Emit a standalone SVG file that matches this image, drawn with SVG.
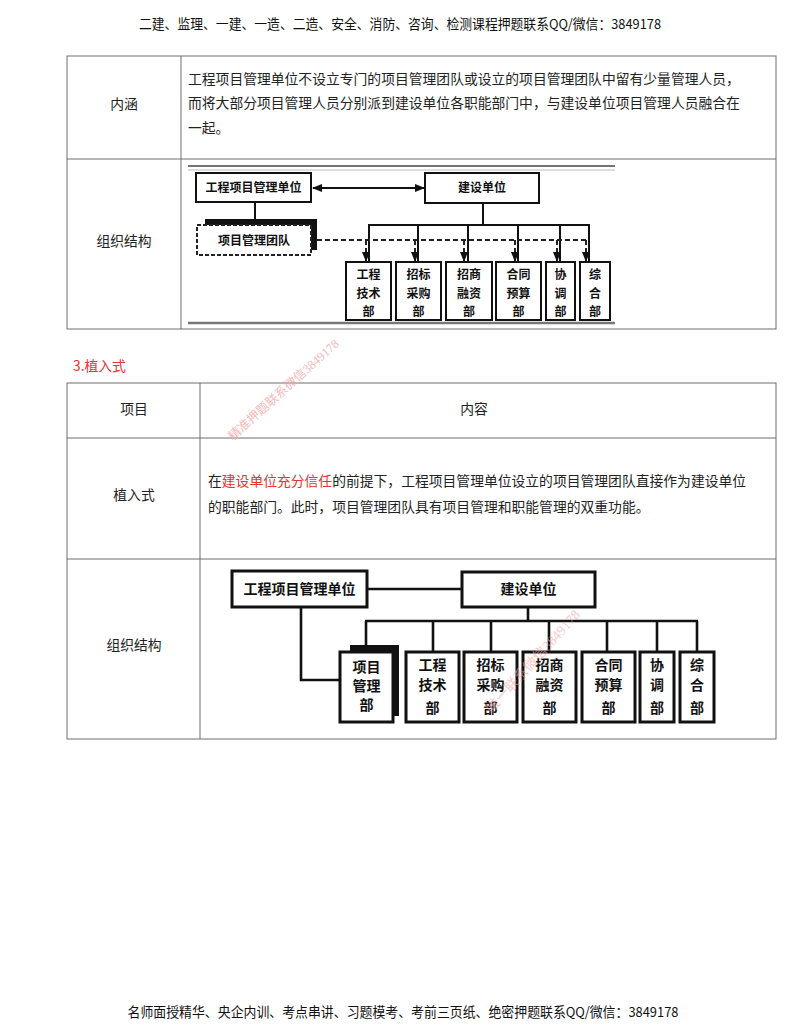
<svg xmlns="http://www.w3.org/2000/svg" width="800" height="1035" viewBox="0 0 800 1035">
<style>
.bg{fill:#fff}
.tbl{stroke:#6e6e6e;stroke-width:1;fill:none}
.body{font-family:"Noto Sans CJK SC","Noto Sans",sans-serif;font-size:13.8px;fill:#222}
.lbl{font-family:"Noto Sans CJK SC","Noto Sans",sans-serif;font-size:13.8px;fill:#222;text-anchor:middle}
.red{fill:#e8322f}
.hdr{font-family:"Noto Sans CJK SC","Noto Sans",sans-serif;font-size:13.5px;fill:#111;text-anchor:middle}
.wm{font-family:"Liberation Serif","Noto Sans CJK SC",serif;font-size:12.5px;fill:#f2a9a9;opacity:0.8}
.b1{fill:#fff;stroke:#111;stroke-width:2}
.b2{fill:#fff;stroke:#111;stroke-width:3}
.t1{font-family:"Noto Sans CJK SC",sans-serif;font-size:12px;font-weight:700;fill:#111;text-anchor:middle}
.t2{font-family:"Noto Sans CJK SC",sans-serif;font-size:14px;font-weight:700;fill:#111;text-anchor:middle}
.c1{stroke:#111;stroke-width:2;fill:none}
.c2{stroke:#111;stroke-width:2.6;fill:none}
.dash{stroke:#222;stroke-width:2;fill:none;stroke-dasharray:5 3}
</style>
<defs>
<marker id="ah" viewBox="0 0 10 10" refX="9" refY="5" markerWidth="5" markerHeight="5" orient="auto-start-reverse">
<path d="M0,1 L10,5 L0,9 z" fill="#111"/>
</marker>
</defs>
<rect class="bg" x="0" y="0" width="800" height="1035"/>

<text class="hdr" x="400" y="29" textLength="522" lengthAdjust="spacingAndGlyphs">二建、监理、一建、一造、二造、安全、消防、咨询、检测课程押题联系QQ/微信：3849178</text>

<g id="table1">
<rect class="tbl" x="67" y="56" width="709" height="273"/>
<line class="tbl" x1="181" y1="56" x2="181" y2="329"/>
<line class="tbl" x1="67" y1="159" x2="776" y2="159"/>
<text class="lbl" x="124" y="109">内涵</text>
<text class="lbl" x="124" y="246">组织结构</text>
<text class="body" x="188" y="84">工程项目管理单位不设立专门的项目管理团队或设立的项目管理团队中留有少量管理人员，</text>
<text class="body" x="188" y="108">而将大部分项目管理人员分别派到建设单位各职能部门中，与建设单位项目管理人员融合在</text>
<text class="body" x="188" y="133">一起。</text>
</g>

<g id="diagram1">
<line x1="188" y1="166" x2="615" y2="166" stroke="#444" stroke-width="1.5"/>
<line x1="188" y1="170" x2="615" y2="170" stroke="#bbb" stroke-width="1"/>
<line x1="188" y1="323" x2="615" y2="323" stroke="#777" stroke-width="2.5"/>
<g id="connectors1">
<line class="c1" x1="313" y1="188" x2="424" y2="188" marker-start="url(#ah)" marker-end="url(#ah)"/>
<line class="c1" x1="255" y1="202" x2="255" y2="219"/>
<line class="c1" x1="483" y1="203" x2="483" y2="225"/>
<line class="c1" x1="368" y1="225" x2="590" y2="225"/>
<line class="c1" x1="369" y1="225" x2="369" y2="262"/>
<line class="c1" x1="418" y1="225" x2="418" y2="262"/>
<line class="c1" x1="468" y1="225" x2="468" y2="262"/>
<line class="c1" x1="518" y1="225" x2="518" y2="262"/>
<line class="c1" x1="560" y1="225" x2="560" y2="262"/>
<line class="c1" x1="589" y1="225" x2="589" y2="262"/>
<line class="dash" x1="317" y1="240" x2="586" y2="240"/>
<line class="dash" x1="366" y1="240" x2="366" y2="261" marker-end="url(#ah)"/>
<line class="dash" x1="415" y1="240" x2="415" y2="261" marker-end="url(#ah)"/>
<line class="dash" x1="464" y1="240" x2="464" y2="261" marker-end="url(#ah)"/>
<line class="dash" x1="515" y1="240" x2="515" y2="261" marker-end="url(#ah)"/>
<line class="dash" x1="557" y1="240" x2="557" y2="261" marker-end="url(#ah)"/>
<line class="dash" x1="586" y1="240" x2="586" y2="261" marker-end="url(#ah)"/>
</g>
<g id="d1-pmu"><rect class="b1" x="196" y="173" width="115" height="29"/><text class="t1" x="253.5" y="192">工程项目管理单位</text></g>
<g id="d1-owner"><rect class="b1" x="425" y="173" width="114" height="30"/><text class="t1" x="482" y="192">建设单位</text></g>
<g id="d1-team">
<rect x="205" y="219" width="112" height="7" fill="#111"/>
<rect x="311" y="219" width="6" height="31" fill="#111"/>
<rect x="197" y="225" width="114" height="30" fill="#fff" stroke="#222" stroke-width="2" stroke-dasharray="4 2"/>
<text class="t1" x="254" y="245">项目管理团队</text>
</g>
<g id="d1-eng"><rect class="b1" x="346" y="262" width="45" height="58"/><text class="t1" x="368.5" y="279">工程</text><text class="t1" x="368.5" y="298">技术</text><text class="t1" x="368.5" y="316">部</text></g>
<g id="d1-bid"><rect class="b1" x="396" y="262" width="45" height="58"/><text class="t1" x="418.5" y="279">招标</text><text class="t1" x="418.5" y="298">采购</text><text class="t1" x="418.5" y="316">部</text></g>
<g id="d1-fin"><rect class="b1" x="446" y="262" width="46" height="58"/><text class="t1" x="469" y="279">招商</text><text class="t1" x="469" y="298">融资</text><text class="t1" x="469" y="316">部</text></g>
<g id="d1-con"><rect class="b1" x="496" y="262" width="45" height="58"/><text class="t1" x="518.5" y="279">合同</text><text class="t1" x="518.5" y="298">预算</text><text class="t1" x="518.5" y="316">部</text></g>
<g id="d1-coo"><rect class="b1" x="546" y="262" width="29" height="58"/><text class="t1" x="560.5" y="279">协</text><text class="t1" x="560.5" y="298">调</text><text class="t1" x="560.5" y="316">部</text></g>
<g id="d1-gen"><rect class="b1" x="580" y="262" width="30" height="58"/><text class="t1" x="595" y="279">综</text><text class="t1" x="595" y="298">合</text><text class="t1" x="595" y="316">部</text></g>
</g>

<text class="body red" x="73" y="371">3.植入式</text>

<g id="table2">
<rect class="tbl" x="67" y="383" width="709" height="356"/>
<line class="tbl" x1="200" y1="383" x2="200" y2="739"/>
<line class="tbl" x1="67" y1="438" x2="776" y2="438"/>
<line class="tbl" x1="67" y1="559" x2="776" y2="559"/>
<text class="lbl" x="134" y="414">项目</text>
<text class="lbl" x="474" y="414">内容</text>
<text class="lbl" x="134" y="500">植入式</text>
<text class="lbl" x="134" y="650">组织结构</text>
<text class="body" x="208" y="486">在<tspan class="red">建设单位充分信任</tspan>的前提下，工程项目管理单位设立的项目管理团队直接作为建设单位</text>
<text class="body" x="208" y="512">的职能部门。此时，项目管理团队具有项目管理和职能管理的双重功能。</text>
</g>

<text class="wm" x="233" y="441" transform="rotate(-42 233 441)">精准押题联系微信3849178</text>

<g id="diagram2">
<g id="connectors2">
<line class="c2" x1="367" y1="589" x2="462" y2="589"/>
<line class="c2" x1="528" y1="607" x2="528" y2="621"/>
<line class="c2" x1="365" y1="621" x2="698" y2="621"/>
<line class="c2" x1="366" y1="621" x2="366" y2="646"/>
<line class="c2" x1="433" y1="621" x2="433" y2="652"/>
<line class="c2" x1="491" y1="621" x2="491" y2="652"/>
<line class="c2" x1="549" y1="621" x2="549" y2="652"/>
<line class="c2" x1="607" y1="621" x2="607" y2="652"/>
<line class="c2" x1="657" y1="621" x2="657" y2="652"/>
<line class="c2" x1="697" y1="621" x2="697" y2="652"/>
<polyline class="c2" points="301,607 301,680 341,680"/>
</g>
<g id="d2-pmu"><rect class="b2" x="232" y="571" width="135" height="36"/><text class="t2" x="299.5" y="594">工程项目管理单位</text></g>
<g id="d2-owner"><rect class="b2" x="462" y="572" width="133" height="35"/><text class="t2" x="528.5" y="594">建设单位</text></g>
<g id="d2-pmd">
<rect x="350" y="645" width="49" height="71" fill="#111"/>
<rect class="b2" x="340" y="652" width="53" height="70"/>
<text class="t2" x="366.5" y="672">项目</text><text class="t2" x="366.5" y="691">管理</text><text class="t2" x="366.5" y="710">部</text>
</g>
<g id="d2-eng"><rect class="b2" x="406" y="652" width="53" height="70"/><text class="t2" x="432.5" y="670">工程</text><text class="t2" x="432.5" y="690">技术</text><text class="t2" x="432.5" y="713">部</text></g>
<g id="d2-bid"><rect class="b2" x="464" y="652" width="53" height="70"/><text class="t2" x="490.5" y="670">招标</text><text class="t2" x="490.5" y="690">采购</text><text class="t2" x="490.5" y="713">部</text></g>
<g id="d2-fin"><rect class="b2" x="523" y="652" width="53" height="70"/><text class="t2" x="549.5" y="670">招商</text><text class="t2" x="549.5" y="690">融资</text><text class="t2" x="549.5" y="713">部</text></g>
<g id="d2-con"><rect class="b2" x="582" y="652" width="53" height="70"/><text class="t2" x="608.5" y="670">合同</text><text class="t2" x="608.5" y="690">预算</text><text class="t2" x="608.5" y="713">部</text></g>
<g id="d2-coo"><rect class="b2" x="640" y="652" width="34" height="70"/><text class="t2" x="657" y="670">协</text><text class="t2" x="657" y="690">调</text><text class="t2" x="657" y="713">部</text></g>
<g id="d2-gen"><rect class="b2" x="680" y="652" width="34" height="70"/><text class="t2" x="697" y="670">综</text><text class="t2" x="697" y="690">合</text><text class="t2" x="697" y="713">部</text></g>
</g>

<text class="wm" x="492" y="714" transform="rotate(-48 492 714)" style="font-size:14px;opacity:0.6">唯一联系微信3849178</text>

<text class="hdr" x="403" y="1017" textLength="551" lengthAdjust="spacingAndGlyphs">名师面授精华、央企内训、考点串讲、习题模考、考前三页纸、绝密押题联系QQ/微信：3849178</text>
</svg>
